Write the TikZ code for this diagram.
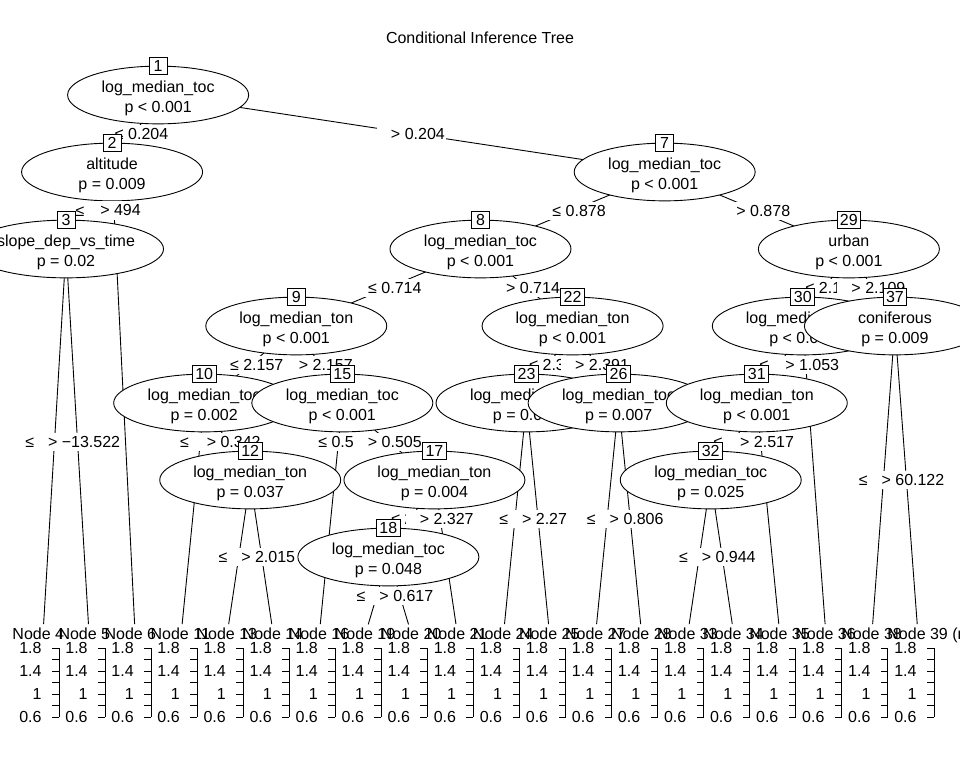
\documentclass[tikz,border=0pt]{standalone}
\usepackage{fontspec}
\setmainfont{Liberation Sans}
\usetikzlibrary{calc,shapes.geometric}

\tikzset{
	inner/.style={draw, fill=white, ellipse, minimum width=181pt, minimum height=56pt, inner sep=0pt, align=center},
	idbox/.style={draw, fill=white, inner xsep=3pt, inner ysep=0pt, minimum height=17pt, minimum width=18pt},
	splitlab/.style={fill=white, inner sep=1pt, minimum height=18pt},
	termlab/.style={anchor=base west, inner sep=0pt},
	ticklab/.style={anchor=east, inner sep=0pt}
}
\def\innernode(#1)#2#3{\node[inner] (n#1) at (c#1) {\rule{0pt}{17.5pt}#2\\#3}; \node[idbox] (b#1) at (n#1.north) {#1};}
\def\splitlabel[#1](#2,#3)#4{\node[splitlab] (l#3) at ($(c#2)!#1!(c#3)$) {\hspace*{13pt}#4};}

\begin{document}
\begin{tikzpicture}[x=1pt, y=-1pt, line width=0.9pt, font=\fontsize{16}{20}\selectfont]
			%%%%% START %%%%%
			\useasboundingbox (0,0) rectangle (960,768);
			
			\node (title) at (480, 38) {Conditional Inference Tree};
			
			% node centres: id / slot / level
			\foreach \id/\k/\lev in {1/2.5/1, 2/1.5/2, 3/0.5/3, 7/13.5/2, 8/9.5/3, 9/5.5/4, 10/3.5/5, 12/4.5/6, 15/6.5/5, 17/8.5/6, 18/7.5/7, 22/11.5/4, 23/10.5/5, 26/12.5/5, 29/17.5/3, 30/16.5/4, 31/15.5/5, 32/14.5/6, 37/18.5/4}
				\coordinate (c\id) at ({43+46.05*\k}, {95+77*(\lev-1)});
			\foreach \id [count=\i from 0] in {4,5,6,11,13,14,16,19,20,21,24,25,27,28,33,34,35,36,38,39}
				\coordinate (c\id) at ({43+46.05*\i}, 634);
			
			% edges
			\foreach \a/\b in {1/2,1/7,2/3,7/8,7/29,8/9,8/22,9/10,9/15,10/12,15/17,17/18,22/23,22/26,29/30,29/37,30/31,31/32}
				\draw (c\a) -- (c\b);
			\foreach \a/\b in {2/6,3/4,3/5,10/11,12/13,12/14,15/16,17/21,18/19,18/20,23/24,23/25,26/27,26/28,30/36,31/35,32/33,32/34,37/38,37/39}
				\draw[shorten >=10pt] (c\a) -- (c\b);
			
			% inner nodes and split labels
			\innernode(1){log\_median\_toc}{p < 0.001}
			\splitlabel[0.5](1,2){≤ 0.204}
			\innernode(2){altitude}{p = 0.009}
			\splitlabel[0.5](2,3){≤ 494}
			\innernode(3){slope\_dep\_vs\_time}{p = 0.02}
			\splitlabel[0.5](3,4){≤ −13.522}
			\splitlabel[0.5](3,5){> −13.522}
			\splitlabel[0.0833](2,6){> 494}
			\splitlabel[0.5](1,7){> 0.204}
			\innernode(7){log\_median\_toc}{p < 0.001}
			\splitlabel[0.5](7,8){≤ 0.878}
			\innernode(8){log\_median\_toc}{p < 0.001}
			\splitlabel[0.5](8,9){≤ 0.714}
			\innernode(9){log\_median\_ton}{p < 0.001}
			\splitlabel[0.5](9,10){≤ 2.157}
			\innernode(10){log\_median\_toc}{p = 0.002}
			\splitlabel[0.1667](10,11){≤ 0.342}
			\splitlabel[0.5](10,12){> 0.342}
			\innernode(12){log\_median\_ton}{p = 0.037}
			\splitlabel[0.5](12,13){≤ 2.015}
			\splitlabel[0.5](12,14){> 2.015}
			\splitlabel[0.5](9,15){> 2.157}
			\innernode(15){log\_median\_toc}{p < 0.001}
			\splitlabel[0.1667](15,16){≤ 0.505}
			\splitlabel[0.5](15,17){> 0.505}
			\innernode(17){log\_median\_ton}{p = 0.004}
			\splitlabel[0.5](17,18){≤ 2.327}
			\innernode(18){log\_median\_toc}{p = 0.048}
			\splitlabel[0.5](18,19){≤ 0.617}
			\splitlabel[0.5](18,20){> 0.617}
			\splitlabel[0.25](17,21){> 2.327}
			\splitlabel[0.5](8,22){> 0.714}
			\innernode(22){log\_median\_ton}{p < 0.001}
			\splitlabel[0.5](22,23){≤ 2.391}
			\innernode(23){log\_median\_toc}{p = 0.001}
			\splitlabel[0.5](23,24){≤ 2.27}
			\splitlabel[0.5](23,25){> 2.27}
			\splitlabel[0.5](22,26){> 2.391}
			\innernode(26){log\_median\_toc}{p = 0.007}
			\splitlabel[0.5](26,27){≤ 0.806}
			\splitlabel[0.5](26,28){> 0.806}
			\splitlabel[0.5](7,29){> 0.878}
			\innernode(29){urban}{p < 0.001}
			\splitlabel[0.5](29,30){≤ 2.109}
			\innernode(30){log\_median\_ton}{p < 0.001}
			\splitlabel[0.5](30,31){≤ 1.053}
			\innernode(31){log\_median\_ton}{p < 0.001}
			\splitlabel[0.5](31,32){≤ 2.517}
			\innernode(32){log\_median\_toc}{p = 0.025}
			\splitlabel[0.5](32,33){≤ 0.944}
			\splitlabel[0.5](32,34){> 0.944}
			\splitlabel[0.1667](31,35){> 2.517}
			\splitlabel[0.125](30,36){> 1.053}
			\splitlabel[0.5](29,37){> 2.109}
			\innernode(37){coniferous}{p = 0.009}
			\splitlabel[0.5](37,38){≤ 60.122}
			\splitlabel[0.5](37,39){> 60.122}
			
			% terminal panels
			\foreach \id [count=\i from 0] in {4,5,6,11,13,14,16,19,20,21,24,25,27,28,33,34,35,36,38,39} {
				\pgfmathsetmacro\ax{59+46.05*\i}
				\node[termlab] (h\id) at ({12+46.05*\i}, 639) {Node \id\ifnum\id=39\ (n\fi};
				\draw (\ax, 648) -- (\ax, 717);
				\foreach \k in {0,...,6}
					\draw (\ax, {648+11.5*\k}) -- ++(-7,0);
				\foreach \v/\k in {1.8/0,1.4/2,1/4,0.6/6}
					\node[ticklab] (y\id-\k) at ({\ax-17}, {648+11.5*\k}) {\v};
			}
			
			%%%%% END %%%%%
\end{tikzpicture}
\end{document}
